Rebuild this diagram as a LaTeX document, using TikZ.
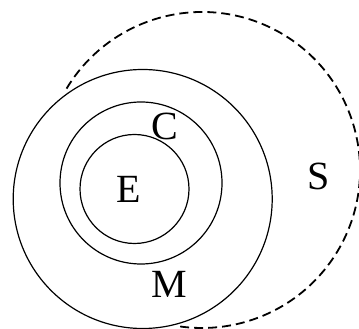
\documentclass[tikz,border=0pt]{standalone}
\usepackage{fontspec}
\setmainfont{Liberation Serif}
\begin{document}
\begin{tikzpicture}[
  x=1pt,y=1pt,
  ring/.style={draw,line width=1.2pt},
  outer/.style={draw,line width=1.8pt,dash pattern=on 9pt off 5pt},
  lbl/.style={inner sep=0pt,font=\fontsize{40}{46}\selectfont}
]
\useasboundingbox (0,0) rectangle (359,329);
\coordinate (cm) at (142.7,130);
\coordinate (cc) at (141,146);
\coordinate (ce) at (134.5,140);
\coordinate (cs) at (202,159);

\draw[ring] (cm) circle[radius=129.5];
\draw[ring] (cc) circle[radius=81];
\draw[ring] (ce) circle[radius=54.5];
\draw[outer] (cs) ++(149:158) arc[start angle=149,end angle=-99,radius=158];

\node[lbl] (e) at (128.5,140) {E};
\node[lbl] (c) at (164.7,203) {C};
\node[lbl] (m) at (169,45) {M};
\node[lbl] (s) at (318.3,152.3) {S};
\end{tikzpicture}
\end{document}
